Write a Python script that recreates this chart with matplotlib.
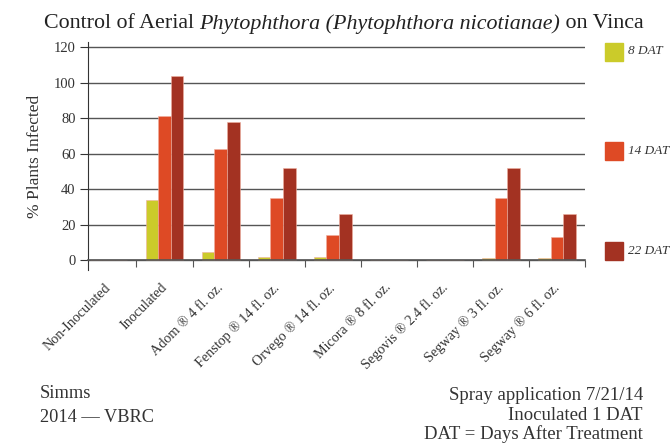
import matplotlib
matplotlib.use("Agg")
import matplotlib.pyplot as plt
import numpy as np
from matplotlib.patches import Rectangle

plt.rcParams["font.family"] = ["Liberation Serif", "DejaVu Serif"]

categories = [
    "Non-Inoculated", "Inoculated", "Adom \u00ae 4 fl. oz.", "Fenstop \u00ae 14 fl. oz.",
    "Orvego \u00ae 14 fl. oz.", "Micora \u00ae 8 fl. oz.", "Segovis \u00ae 2.4 fl. oz.",
    "Segway \u00ae 3 fl. oz.", "Segway \u00ae 6 fl. oz.",
]
dat8 = [0, 34, 4.5, 1.5, 1.5, 0, 0, 1, 1]
dat14 = [0, 81, 62.5, 35, 14, 0, 0, 35, 13]
dat22 = [0, 104, 78, 52, 26, 0, 0, 52, 26]
series_labels = ["8 DAT", "14 DAT", "22 DAT"]
colors = ["#cbcb2a", "#de4a25", "#a33222"]

W, H = 670, 443
fig = plt.figure(figsize=(W / 100, H / 100), dpi=100)
ax = fig.add_axes([88 / W, 1 - 270 / H, (585 - 88) / W, (270 - 42) / H])

x = np.arange(len(categories))
bw = 0.225
for i, (vals, c) in enumerate(zip([dat8, dat14, dat22], colors)):
    ax.bar(x + (i - 1) * bw, vals, width=bw, color=c, edgecolor="#f0b0a0",
           linewidth=0.4, zorder=2)

ax.set_xlim(-0.365, 8.5)
ax.set_ylim(-5.6, 123)
ax.set_yticks(range(0, 121, 20))
ax.tick_params(axis="y", direction="out", length=6, width=0.8, color="#333333",
               labelsize=10.5, labelcolor="#333333", pad=3)
ax.set_axisbelow(True)
ax.yaxis.grid(True, color="#555555", linewidth=1.0)

# group separators as ticks; names placed under each group
ax.set_xticks(x + 0.5)
ax.set_xticklabels([])
ax.tick_params(axis="x", direction="out", length=5, color="#555555")
for xi, name in zip(x, categories):
    ax.annotate(name, xy=(xi, 0), xytext=(-3, -15), textcoords="offset points",
                rotation=45, rotation_mode="anchor", ha="right", va="top",
                fontsize=10.2, color="#333333", annotation_clip=False)

for s in ["top", "right"]:
    ax.spines[s].set_visible(False)
ax.spines["bottom"].set_position(("data", 0))
ax.spines["bottom"].set_color("#555555")
ax.spines["bottom"].set_linewidth(1.2)
ax.spines["bottom"].set_zorder(4)
ax.spines["left"].set_color("#333333")
ax.spines["left"].set_linewidth(0.8)

ax.set_ylabel("% Plants Infected", fontsize=12.5, color="#333333", labelpad=8)

# legend items down the right side
for lab, c, yc in zip(series_labels, colors, [51.5, 150.5, 250.5]):
    fig.patches.append(Rectangle((605 / W, 1 - (yc + 9) / H), 18 / W, 18 / H,
                                 transform=fig.transFigure, color=c))
    fig.text(628 / W, 1 - yc / H, lab, style="italic", fontsize=9.5,
             color="#333333", va="center", ha="left")

# title with italic middle part
parts = [("Control of Aerial ", "normal"),
         ("Phytophthora (Phytophthora nicotianae)", "italic"),
         (" on Vinca", "normal")]
fig.canvas.draw()
renderer = fig.canvas.get_renderer()
texts = []
for s, st in parts:
    t = fig.text(0, 1 - 24 / H, s, style=st, fontsize=15.8, color="#222222",
                 va="center", ha="left")
    texts.append(t)
widths = [t.get_window_extent(renderer).width for t in texts]
xpos = 344 - sum(widths) / 2
for t, w in zip(texts, widths):
    t.set_x(xpos / W)
    xpos += w

fig.text(40 / W, 1 - 394 / H, "Simms", fontsize=13.2, color="#333333", va="center")
fig.text(40 / W, 1 - 418 / H, "2014 \u2014 VBRC", fontsize=13.2, color="#333333", va="center")
fig.text(643 / W, 1 - 395 / H, "Spray application 7/21/14", fontsize=13.5,
         color="#333333", va="center", ha="right")
fig.text(643 / W, 1 - 415 / H, "Inoculated 1 DAT", fontsize=13.5,
         color="#333333", va="center", ha="right")
fig.text(643 / W, 1 - 434 / H, "DAT = Days After Treatment", fontsize=13.5,
         color="#333333", va="center", ha="right")

fig.savefig("out.png", dpi=100)
